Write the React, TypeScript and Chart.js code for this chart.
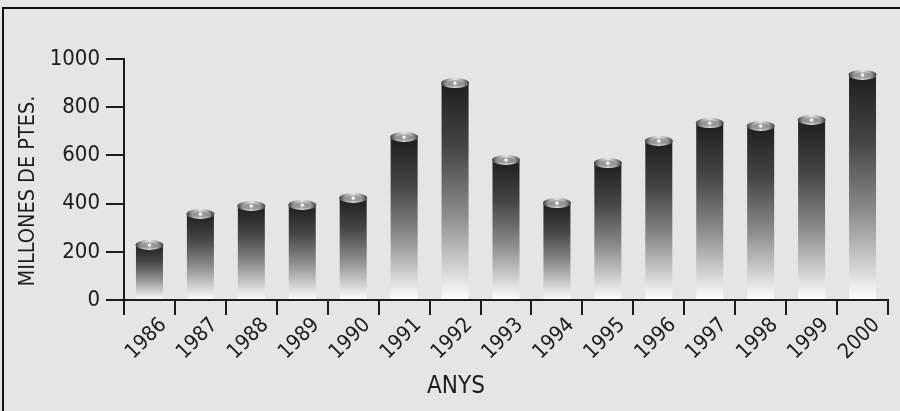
import { useEffect, useRef } from "react";
import Chart from "chart.js/auto";

const years = [
  "1986", "1987", "1988", "1989", "1990", "1991", "1992", "1993",
  "1994", "1995", "1996", "1997", "1998", "1999", "2000",
];
const amounts = [228, 357, 390, 394, 423, 676, 900, 581, 402, 568, 660, 734, 722, 747, 934];
const yTicks = [0, 200, 400, 600, 800, 1000];
const yTitle = "MILLONES DE PTES.";
const xTitle = "ANYS";

const ink = "#1c1c1c";
const narrow = "'Liberation Sans Narrow', 'DejaVu Sans Condensed', 'Roboto Condensed', sans-serif";

// grey page with the frame line on top and left
const framePlugin = {
  id: "frame",
  beforeDraw(chart: Chart) {
    const { ctx, width, height } = chart;
    ctx.save();
    ctx.fillStyle = "#e5e5e5";
    ctx.fillRect(0, 0, width, height);
    ctx.strokeStyle = "#111";
    ctx.lineWidth = 2;
    ctx.beginPath();
    ctx.moveTo(3, height);
    ctx.lineTo(3, 8);
    ctx.lineTo(width, 8);
    ctx.stroke();
    ctx.restore();
  },
};

// axis titles sit a little off-centre in the original, so place them by hand
const titlesPlugin = {
  id: "titles",
  afterDraw(chart: Chart) {
    const { ctx } = chart;
    ctx.save();
    ctx.fillStyle = ink;
    ctx.textAlign = "center";
    ctx.textBaseline = "middle";
    ctx.font = `21.5px ${narrow}`;
    ctx.translate(28, 191);
    ctx.rotate(-Math.PI / 2);
    ctx.fillText(yTitle, 0, 0);
    ctx.restore();

    ctx.save();
    ctx.fillStyle = ink;
    ctx.textAlign = "center";
    ctx.textBaseline = "middle";
    ctx.font = `24px ${narrow}`;
    ctx.fillText(xTitle, 456, 387);
    ctx.restore();
  },
};

// cylinder caps on top of every bar
const capPlugin = {
  id: "caps",
  afterDatasetsDraw(chart: Chart) {
    const { ctx } = chart;
    const meta = chart.getDatasetMeta(0);
    ctx.save();
    meta.data.forEach((bar: any) => {
      const { x, y, width } = bar.getProps(["x", "y", "width"], true);
      if (![x, y, width].every(Number.isFinite)) return;
      const rx = width / 2 + 0.5;
      const ry = 5;
      const g = ctx.createLinearGradient(x - rx, 0, x + rx, 0);
      g.addColorStop(0, "#444");
      g.addColorStop(0.25, "#a8a8a8");
      g.addColorStop(0.5, "#e6e6e6");
      g.addColorStop(0.75, "#a8a8a8");
      g.addColorStop(1, "#444");
      ctx.fillStyle = g;
      ctx.beginPath();
      ctx.ellipse(x, y, rx, ry, 0, 0, Math.PI * 2);
      ctx.fill();
      ctx.fillStyle = "rgba(120,120,120,0.55)";
      ctx.beginPath();
      ctx.ellipse(x, y + 0.5, rx * 0.55, ry * 0.65, 0, 0, Math.PI * 2);
      ctx.fill();
      ctx.fillStyle = "#fff";
      ctx.beginPath();
      ctx.arc(x, y, 1.6, 0, Math.PI * 2);
      ctx.fill();
    });
    ctx.restore();
  },
};

export default function App() {
  const canvasRef = useRef<HTMLCanvasElement>(null);

  useEffect(() => {
    document.body.style.margin = "0";
    if (!canvasRef.current) return;

    const chart = new Chart(canvasRef.current, {
      type: "bar",
      data: {
        labels: years,
        datasets: [
          {
            data: amounts,
            barPercentage: 0.53,
            categoryPercentage: 1,
            backgroundColor: (c: any) => {
              const ch = c.chart;
              const yScale = ch.scales?.y;
              if (!yScale || c.type !== "data") return "#555";
              const top = yScale.getPixelForValue(c.raw);
              const base = yScale.getPixelForValue(0);
              if (!Number.isFinite(top) || !Number.isFinite(base) || top === base) return "#555";
              const g = ch.ctx.createLinearGradient(0, top, 0, base);
              g.addColorStop(0, "#1e1e1e");
              g.addColorStop(0.3, "#464646");
              g.addColorStop(0.6, "#8a8a8a");
              g.addColorStop(0.86, "#d4d4d4");
              g.addColorStop(1, "#ffffff");
              return g;
            },
          },
        ],
      },
      options: {
        animation: false,
        responsive: true,
        maintainAspectRatio: false,
        layout: { padding: { top: 59, right: 12, left: 0, bottom: 0 } },
        plugins: {
          legend: { display: false },
          tooltip: { enabled: false },
        },
        scales: {
          x: {
            offset: true,
            grid: {
              offset: true,
              drawOnChartArea: false,
              drawTicks: true,
              tickLength: 15,
              color: ink,
              lineWidth: 2,
            },
            border: { display: true, color: ink, width: 2 },
            ticks: {
              color: ink,
              font: { family: narrow, size: 21 },
              minRotation: 45,
              maxRotation: 45,
              autoSkip: false,
              labelOffset: 14,
              padding: -2,
            },
            afterFit: (s: any) => {
              s.height = 111;
            },
          },
          y: {
            min: 0,
            max: 1000,
            afterBuildTicks: (s: any) => {
              s.ticks = yTicks.map((v) => ({ value: v }));
            },
            grid: {
              drawOnChartArea: false,
              drawTicks: true,
              tickLength: 18,
              color: ink,
              lineWidth: 2,
            },
            border: { display: true, color: ink, width: 2 },
            ticks: {
              color: ink,
              font: { family: narrow, size: 22 },
              padding: 6,
              callback: (v: any) => String(v),
            },
            afterFit: (s: any) => {
              s.width = 124;
            },
          },
        },
      },
      plugins: [framePlugin, capPlugin, titlesPlugin],
    });

    return () => {
      chart.destroy();
    };
  }, []);

  return (
    <div style={{ position: "relative", width: "900px", height: "411px" }}>
      <canvas ref={canvasRef}></canvas>
    </div>
  );
}
